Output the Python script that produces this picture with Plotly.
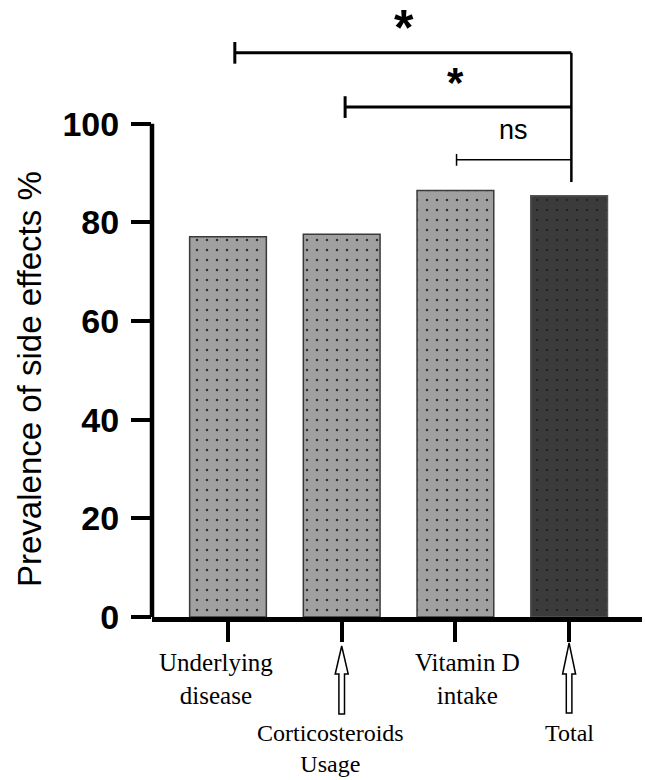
import plotly.graph_objects as go

# ---------------- data ----------------
categories = ["Underlying disease", "Corticosteroids Usage", "Vitamin D intake", "Total"]
category_labels = ["Underlying<br>disease", "Corticosteroids<br>Usage", "Vitamin D<br>intake", "Total"]
prevalence = [77.1, 77.6, 86.5, 85.4]
y_tick_values = [0, 20, 40, 60, 80, 100]
y_title = "Prevalence of side effects %"
# comparisons: (from category index, to category index, label)
comparisons = [(0, 3, "*"), (1, 3, "*"), (2, 3, "ns")]

# ---------------- layout constants ----------------
W, H = 645, 780
ML, MR, MT, MB = 152, 3, 5, 163
PLOT_H = H - MT - MB
PLOT_W = W - ML - MR
Y_MAX = 124.1
PX_PER_CAT = 113.7
X0 = -(228 - ML) / PX_PER_CAT
X1 = X0 + PLOT_W / PX_PER_CAT
BOTTOM_PX = H - MB


def py(pix):
    """pixel row -> paper y"""
    return (BOTTOM_PX - pix) / PLOT_H


x_idx = list(range(len(categories)))

fig = go.Figure()
# group bars (light gray, dotted) and the Total bar (dark, dotted)
groups = [
    (x_idx[:3], prevalence[:3], "#a0a0a0", "#2e2e2e", "#3a3a3a", categories[:3]),
    (x_idx[3:], prevalence[3:], "#3b3b3b", "#242424", "#555555", categories[3:]),
]
for xs, ys, bg, fg, lc, names in groups:
    fig.add_trace(go.Bar(
        x=xs,
        y=ys,
        width=0.675,
        marker=dict(
            color=bg,
            line=dict(color=lc, width=1.5),
            pattern=dict(shape=".", size=10, solidity=0.05,
                         fgcolor=fg, bgcolor=bg, fillmode="replace"),
        ),
        hovertext=names,
        showlegend=False,
    ))

shapes = []
# y axis line (0..100)
shapes.append(dict(type="line", xref="paper", yref="y", x0=0, x1=0,
                   y0=-0.6, y1=100, line=dict(color="black", width=4.5)))

# significance brackets
levels = [114.4, 103.4, 92.7]
cap_half = [2.2, 2.2, 1.2]
widths = [3, 3, 1.5]
x_left_off = [0.06, 0.03, 0.01]
x_right = 3.02
for (a, b, lab), lvl, ch, lw, off in zip(comparisons, levels, cap_half, widths, x_left_off):
    xl = a + off
    shapes.append(dict(type="line", xref="x", yref="y", x0=xl, x1=x_right, y0=lvl, y1=lvl,
                       line=dict(color="black", width=lw)))
    shapes.append(dict(type="line", xref="x", yref="y", x0=xl, x1=xl, y0=lvl - ch, y1=lvl + ch,
                       line=dict(color="black", width=lw)))
# vertical connector at Total
shapes.append(dict(type="line", xref="x", yref="y", x0=x_right, x1=x_right, y0=88.2, y1=levels[0],
                   line=dict(color="black", width=2.5)))

# hollow up-arrows under Corticosteroids and Total ticks
head_hw = 6.5 / PX_PER_CAT
shaft_hw = 2.8 / PX_PER_CAT
for ci, (tip, base, bot) in [(1, (646, 674, 714)), (3, (643, 674, 713))]:
    xc = ci
    pts = [
        (xc, py(tip)),
        (xc + head_hw, py(base)),
        (xc + shaft_hw, py(base)),
        (xc + shaft_hw, py(bot)),
        (xc - shaft_hw, py(bot)),
        (xc - shaft_hw, py(base)),
        (xc - head_hw, py(base)),
    ]
    path = "M " + " L ".join(f"{x:.5f},{y:.5f}" for x, y in pts) + " Z"
    shapes.append(dict(type="path", xref="x", yref="paper", path=path,
                       fillcolor="white", line=dict(color="black", width=1.5)))

annotations = []
# category labels (serif, like the reference)
label_pos = [(-12, 647, 25), (-11, 718, 24), (12, 647, 25), (0, 718, 24)]
for i, (lab, (xs, top, fs)) in enumerate(zip(category_labels, label_pos)):
    annotations.append(dict(x=i, xref="x", y=py(top), yref="paper", yanchor="top",
                            xanchor="center", xshift=xs, text=lab, showarrow=False,
                            align="center",
                            font=dict(family="Liberation Serif", size=fs, color="black")))

# significance labels
sig_pos = [(403.5, 22, 50), (455, 78, 42), (513, 130, 27)]
for (a, b, lab), (sx, sy, fs) in zip(comparisons, sig_pos):
    is_star = lab == "*"
    annotations.append(dict(x=(sx - ML) / PLOT_W, xref="paper", y=py(sy), yref="paper",
                            xanchor="center", yanchor="middle",
                            text=lab, showarrow=False,
                            yshift=(-fs * 0.22 + 5 if is_star else 0),
                            font=dict(family="Liberation Sans", size=fs, color="black",
                                      weight="bold" if is_star else "normal")))

# y axis title
annotations.append(dict(x=(29 - ML) / PLOT_W, xref="paper", y=py(379), yref="paper",
                        xanchor="center", yanchor="middle", text=y_title, textangle=-90,
                        showarrow=False,
                        font=dict(family="Liberation Sans", size=33, color="black")))

fig.update_layout(
    width=W, height=H,
    margin=dict(l=ML, r=MR, t=MT, b=MB),
    paper_bgcolor="white", plot_bgcolor="white",
    shapes=shapes, annotations=annotations,
    xaxis=dict(range=[X0, X1], tickvals=x_idx, showticklabels=False,
               ticks="outside", ticklen=20, tickwidth=4, tickcolor="black",
               showline=True, linewidth=4.5, linecolor="black",
               showgrid=False, zeroline=False, fixedrange=True),
    yaxis=dict(range=[0, Y_MAX], tickvals=y_tick_values,
               ticks="outside", ticklen=20, tickwidth=4, tickcolor="black",
               showline=False, showgrid=False, zeroline=False,
               tickfont=dict(family="Liberation Sans", size=34, color="black", weight="bold"),
               ticklabelstandoff=5,
               fixedrange=True),
    barmode="overlay",
)

fig.write_html("out.html", config={"displayModeBar": False},
               post_script="document.body.style.margin='0';")
